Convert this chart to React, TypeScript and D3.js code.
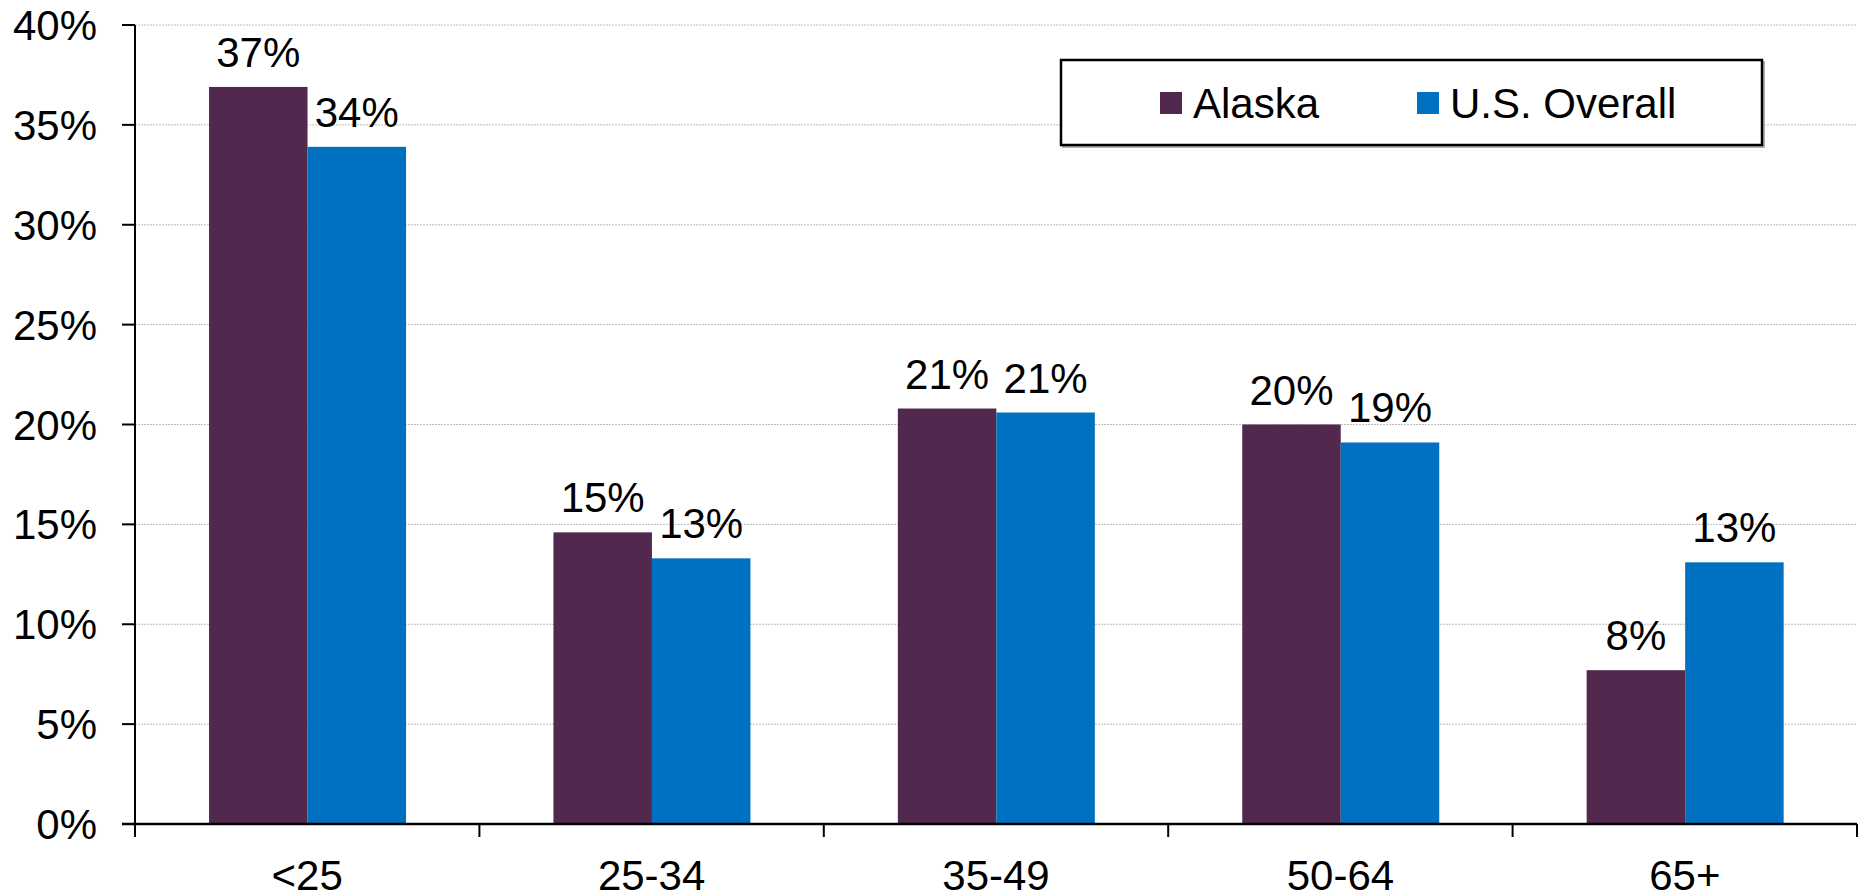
import React from "react";
import * as d3 from "d3";

const categories = ["<25", "25-34", "35-49", "50-64", "65+"];
const seriesNames = ["Alaska", "U.S. Overall"];
const alaska = [36.9, 14.6, 20.8, 20.0, 7.7];
const usOverall = [33.9, 13.3, 20.6, 19.1, 13.1];
const yTicks = [0, 5, 10, 15, 20, 25, 30, 35, 40];
const colors = ["#52284f", "#0070c0"];

const W = 1862;
const H = 895;
const FONT = "'Liberation Sans', Arial, sans-serif";

export default function App() {
	const left = 135;
	const right = 1857;
	const top = 25;
	const bottom = 824;

	const x0 = d3.scaleBand().domain(categories).range([left, right]).padding(0);
	const step = x0.bandwidth();
	const x1 = d3
		.scaleBand()
		.domain(seriesNames)
		.range([step * 0.215, step * 0.787])
		.padding(0);
	const y = d3.scaleLinear().domain([0, 40]).range([bottom, top]);

	const series = [alaska, usOverall];

	return (
		<svg
			width={W}
			height={H}
			style={{ position: "absolute", left: 0, top: 0, background: "#fff" }}
			fontFamily={FONT}
		>
			{/* gridlines */}
			{yTicks.slice(1).map((t) => (
				<line
					key={"g" + t}
					x1={left}
					x2={right}
					y1={y(t)}
					y2={y(t)}
					stroke="#bdbdbd"
					strokeWidth={1}
					strokeDasharray="2,1"
				/>
			))}

			{/* bars */}
			{categories.map((c, i) => (
				<g key={c} transform={`translate(${x0(c)},0)`}>
					{seriesNames.map((s, j) => {
						const v = series[j][i];
						const bx = x1(s) as number;
						return (
							<g key={s}>
								<rect
									x={bx}
									y={y(v)}
									width={x1.bandwidth()}
									height={y(0) - y(v)}
									fill={colors[j]}
								/>
								<text
									x={bx + x1.bandwidth() / 2}
									y={y(v) - 20}
									textAnchor="middle"
									fontSize={42}
									fill="#000"
								>
									{Math.round(v) + "%"}
								</text>
							</g>
						);
					})}
				</g>
			))}

			{/* y axis */}
			<line x1={left} x2={left} y1={top} y2={bottom} stroke="#000" strokeWidth={2} />
			{yTicks.map((t) => (
				<g key={"y" + t}>
					<line x1={left - 13} x2={left} y1={y(t)} y2={y(t)} stroke="#000" strokeWidth={2} />
					<text
						x={97}
						y={y(t)}
						dy="0.36em"
						textAnchor="end"
						fontSize={42}
						fill="#000"
					>
						{t + "%"}
					</text>
				</g>
			))}

			{/* x axis */}
			<line x1={left - 13} x2={right} y1={bottom} y2={bottom} stroke="#000" strokeWidth={2.5} />
			{categories.map((c) => (
				<text
					key={"x" + c}
					x={(x0(c) as number) + step / 2}
					y={890}
					textAnchor="middle"
					fontSize={42}
					fill="#000"
				>
					{c}
				</text>
			))}
			{categories.concat([""]).map((c, i) => {
				const tx = left + i * step;
				return (
					<line key={"xt" + i} x1={tx} x2={tx} y1={bottom} y2={bottom + 13} stroke="#000" strokeWidth={2} />
				);
			})}

			{/* legend */}
			<rect x={1063} y={62} width={701} height={85} fill="none" stroke="#999" strokeWidth={1.5} />
			<rect x={1061} y={60} width={701} height={85} fill="#fff" stroke="#000" strokeWidth={2.5} />
			<rect x={1160} y={92} width={22} height={22} fill={colors[0]} />
			<text x={1193} y={118} fontSize={42} fill="#000">
				{seriesNames[0]}
			</text>
			<rect x={1417} y={92} width={22} height={22} fill={colors[1]} />
			<text x={1450} y={118} fontSize={42} fill="#000">
				{seriesNames[1]}
			</text>
		</svg>
	);
}
